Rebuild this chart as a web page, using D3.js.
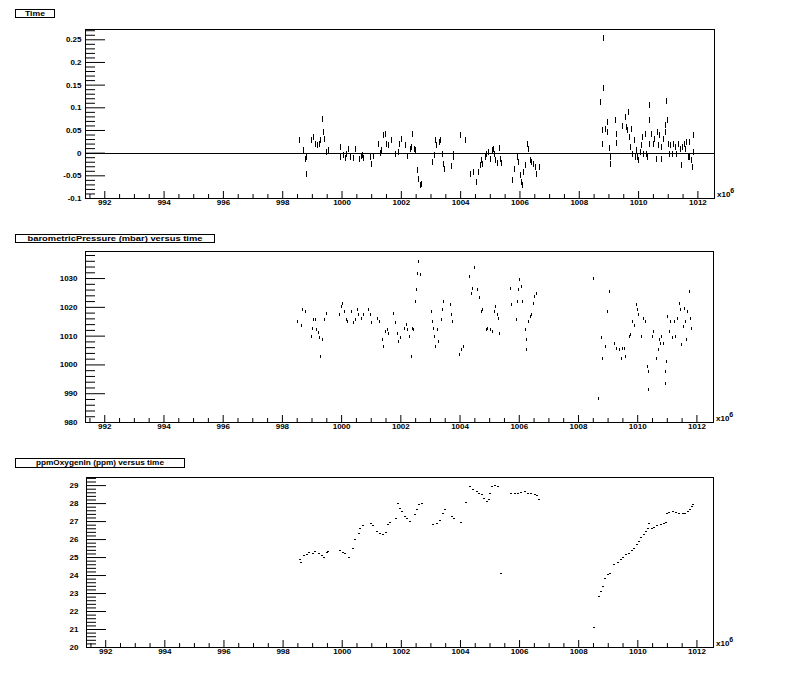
<!DOCTYPE html>
<html>
<head>
<meta charset="utf-8">
<script src="https://cdn.jsdelivr.net/npm/d3@7"></script>
<style>
  body { margin: 0; background: #fff; }
  svg { display: block; }
</style>
</head>
<body>
<div id="chart"></div>
<script>
// time axis (units of 10^6), shared by the three pads
var xDomain = [991.35, 1012.56];
var xMajor = [992, 994, 996, 998, 1000, 1002, 1004, 1006, 1008, 1010, 1012];

// tick labels of each y axis
var timeTicks = [-0.1, -0.05, 0, 0.05, 0.1, 0.15, 0.2, 0.25];
var pressureTicks = [980, 990, 1000, 1010, 1020, 1030];
var oxygenTicks = [20, 21, 22, 23, 24, 25, 26, 27, 28, 29];

// titles
var titles = ["Time", "barometricPressure (mbar) versus time", "ppmOxygenIn (ppm) versus time"];

// Time: [time, value]
var timeRunA = [
  [998.58,0.029],[998.71,0.005],[998.77,-0.013],[998.83,-0.010],[998.81,-0.048],[999.00,0.029],[999.05,0.035],[999.11,0.020],
  [999.18,0.016],[999.25,0.020],[999.30,0.027],[999.35,0.074],[999.40,0.046],[999.43,0.031],[999.48,0.001],[999.55,0.005],
  [999.96,0.012],[999.98,-0.010],[1000.06,-0.006],[1000.12,-0.011],[1000.18,-0.002],[1000.23,0.009],[1000.31,-0.010],[1000.40,-0.011],
  [1000.47,0.007],[1000.59,-0.013],[1000.66,-0.008],[1000.72,-0.006],[1000.74,-0.011],[1000.98,-0.010],[1001.00,-0.026],[1001.07,-0.008],
  [1001.25,0.018],[1001.30,-0.001],[1001.36,0.005],[1001.43,0.038],[1001.48,0.042],[1001.52,0.020],[1001.58,0.016],[1001.67,0.027],
  [1001.83,-0.002],[1001.92,0.001],[1001.97,0.020],[1002.02,0.031],[1002.17,0.016],[1002.22,-0.008],[1002.31,0.009],[1002.37,0.012],
  [1002.40,0.042],[1002.46,0.009],[1002.50,0.005],[1002.56,-0.039],[1002.59,-0.058],[1002.65,-0.072],[1002.71,-0.069],
  [1003.08,-0.021],[1003.12,-0.006],[1003.18,0.027],[1003.21,0.016],[1003.30,0.023],[1003.33,0.029],[1003.40,-0.002],[1003.45,-0.024],
  [1003.48,-0.035],[1003.72,-0.030],[1003.76,-0.010],[1003.79,-0.002],[1004.02,0.038],[1004.18,0.027],
  [1004.36,-0.046],[1004.46,-0.043],[1004.54,-0.065],[1004.63,-0.043],[1004.67,-0.028],[1004.72,-0.017],[1004.76,-0.024],[1004.84,-0.010],
  [1004.90,-0.002],[1004.95,0.001],[1005.01,-0.013],[1005.08,0.005],[1005.12,0.009],[1005.15,-0.002],[1005.20,-0.017],[1005.25,-0.023],
  [1005.32,0.011],[1005.37,-0.015],[1005.39,-0.023],
  [1005.76,-0.061],[1005.83,-0.035],[1005.93,-0.010],[1005.98,-0.021],[1006.02,-0.050],[1006.06,-0.065],[1006.10,-0.072],[1006.13,-0.043],
  [1006.19,-0.028],[1006.26,0.020],[1006.30,0.009],[1006.36,-0.017],[1006.41,-0.021],[1006.47,-0.024],[1006.53,-0.032],[1006.58,-0.046],
  [1006.69,-0.032]
];
var timeRunB = [
  [1008.72,0.112],[1008.80,0.049],[1008.80,0.020],[1008.85,0.252],[1008.85,0.142],[1008.89,0.053],[1008.96,0.068],[1008.96,0.046],
  [1009.02,0.011],[1009.07,-0.010],[1009.07,-0.026],[1009.23,0.071],[1009.28,0.042],[1009.28,0.021],[1009.48,0.058],[1009.56,0.079],
  [1009.62,0.057],[1009.65,0.049],[1009.67,0.090],[1009.71,0.035],[1009.75,0.012],[1009.79,0.053],[1009.82,-0.002],[1009.87,0.027],
  [1009.90,-0.010],[1009.96,0.005],[1009.99,-0.010],[1010.03,-0.017],[1010.07,0.001],[1010.10,0.016],[1010.16,0.035],[1010.18,-0.002],
  [1010.26,0.042],[1010.29,-0.002],[1010.33,-0.010],[1010.37,0.020],[1010.40,0.105],[1010.40,0.071],[1010.44,0.042],[1010.52,0.020],
  [1010.57,0.031],[1010.61,-0.013],[1010.64,0.046],[1010.68,0.016],[1010.72,0.038],[1010.78,-0.015],[1010.80,0.012],[1010.85,0.031],
  [1010.91,0.046],[1010.94,0.060],[1010.97,0.114],[1010.99,0.071],[1011.02,0.020],[1011.06,-0.002],[1011.10,0.016],[1011.17,-0.002],
  [1011.21,0.020],[1011.27,0.012],[1011.31,-0.002],[1011.36,0.020],[1011.42,0.009],[1011.46,-0.028],[1011.51,0.012],[1011.55,0.020],
  [1011.59,0.009],[1011.64,0.023],[1011.69,-0.010],[1011.72,0.023],[1011.75,-0.010],[1011.79,-0.017],[1011.82,-0.032],[1011.88,0.038],
  [1011.88,0.001]
];

// barometricPressure (mbar): [time, value]
var pressureRunA = [
  [998.54,1014.9],[998.66,1013.4],[998.71,1019.0],[998.79,1018.4],[999.00,1009.7],[999.05,1012.6],[999.08,1015.5],[999.14,1015.5],
  [999.18,1012.0],[999.24,1011.1],[999.27,1009.2],[999.32,1002.8],[999.37,1008.6],[999.44,1015.5],[999.50,1017.6],
  [999.93,1017.3],[1000.02,1020.1],[1000.06,1021.3],[1000.12,1018.4],[1000.18,1015.5],[1000.23,1014.9],[1000.34,1018.4],[1000.42,1014.4],
  [1000.48,1015.5],[1000.55,1019.0],[1000.60,1017.3],[1000.68,1016.1],[1000.74,1017.3],[1000.94,1019.0],[1000.98,1017.3],[1001.04,1014.4],
  [1001.22,1016.1],[1001.28,1014.9],
  [1001.41,1008.6],[1001.44,1006.3],[1001.50,1011.5],[1001.56,1012.0],[1001.60,1010.9],[1001.78,1017.8],[1001.84,1014.4],[1001.90,1010.9],
  [1001.95,1008.0],[1002.01,1009.2],[1002.14,1012.6],[1002.20,1013.8],[1002.25,1012.0],[1002.31,1009.7],[1002.37,1002.6],[1002.40,1012.6],
  [1002.46,1012.0],[1002.51,1021.9],[1002.54,1025.9],[1002.59,1031.7],[1002.62,1035.8],[1002.67,1031.1],
  [1003.04,1018.4],[1003.08,1014.9],[1003.12,1012.6],[1003.15,1009.7],[1003.19,1006.3],[1003.24,1012.0],[1003.30,1008.0],[1003.38,1015.5],
  [1003.41,1019.0],[1003.46,1021.9],[1003.68,1020.7],[1003.72,1017.3],[1003.75,1014.9],[1004.00,1003.4],[1004.05,1005.1],[1004.13,1006.3],
  [1004.33,1030.6],[1004.40,1024.8],[1004.45,1026.5],[1004.50,1033.5],[1004.59,1025.9],[1004.67,1023.4],[1004.73,1018.4],[1004.78,1019.0],
  [1004.90,1012.0],[1004.95,1012.6],[1005.03,1012.0],[1005.10,1011.5],[1005.18,1018.4],[1005.23,1020.1],[1005.29,1017.3],[1005.32,1016.1],
  [1005.35,1010.9],
  [1005.72,1026.5],[1005.76,1020.7],[1005.91,1015.5],[1005.96,1021.9],[1006.00,1025.9],[1006.04,1029.4],[1006.08,1027.1],[1006.13,1021.9],
  [1006.22,1012.0],[1006.27,1008.6],[1006.25,1005.1],[1006.33,1014.9],[1006.38,1016.7],[1006.44,1017.3],[1006.49,1021.3],[1006.54,1023.6],
  [1006.60,1024.8]
];
var pressureRunB = [
  [1008.53,1030.0],[1008.69,988.0],[1008.78,1009.2],[1008.83,1002.2],[1008.94,1006.3],[1009.00,1018.4],[1009.06,1025.3],[1009.25,1007.4],
  [1009.30,1005.7],[1009.39,1005.3],[1009.46,1002.2],[1009.50,1005.7],[1009.56,1005.7],[1009.62,1002.8],[1009.73,1009.7],[1009.79,1010.3],
  [1009.84,1014.9],[1009.90,1013.4],[1009.96,1020.7],[1010.01,1019.0],[1010.04,1017.3],[1010.13,1009.7],[1010.21,1016.1],[1010.27,1014.9],
  [1010.35,999.3],[1010.38,997.6],[1010.38,991.2],[1010.50,1009.7],[1010.55,1011.5],[1010.65,1002.2],[1010.71,1005.1],[1010.74,1008.6],
  [1010.80,1007.4],[1010.83,1009.7],[1010.88,1007.4],[1010.94,997.6],[1010.94,993.3],[1010.99,1001.0],[1011.02,1016.7],[1011.08,1011.5],
  [1011.14,1014.9],[1011.19,1009.2],[1011.25,1014.9],[1011.31,1009.7],[1011.36,1016.1],[1011.42,1021.3],[1011.47,1019.0],[1011.51,1006.8],
  [1011.55,1013.2],[1011.60,1019.6],[1011.64,1014.9],[1011.66,1008.6],[1011.70,1018.4],[1011.75,1025.3],[1011.79,1016.1],[1011.85,1012.6]
];

// ppmOxygenIn (ppm): [time, value]
var oxygenRunA = [
  [998.58,24.85],[998.63,24.67],[998.71,25.07],[998.83,25.13],[998.91,25.26],[999.02,25.22],[999.11,25.31],[999.22,25.22],
  [999.33,25.07],[999.41,25.00],[999.50,25.26],[999.55,25.31],
  [999.95,25.35],[1000.04,25.26],[1000.12,25.18],[1000.23,25.00],[1000.38,25.50],[1000.46,25.96],[1000.57,26.33],[1000.62,26.61],
  [1000.72,26.74],
  [1001.00,26.89],[1001.07,26.74],[1001.19,26.42],[1001.30,26.29],[1001.41,26.24],[1001.50,26.37],[1001.58,26.79],[1001.64,26.92],
  [1001.83,27.17],[1001.92,28.00],[1001.97,27.72],[1002.03,27.53],[1002.14,27.26],[1002.22,27.17],[1002.31,26.98],[1002.48,27.35],
  [1002.54,27.63],[1002.62,27.91],[1002.71,28.00],
  [1003.08,26.79],[1003.21,26.89],[1003.32,27.03],[1003.41,27.44],[1003.49,27.63],[1003.72,27.26],[1003.79,27.17],[1004.03,26.92],
  [1004.19,28.03],
  [1004.33,28.92],[1004.43,28.78],[1004.56,28.64],[1004.65,28.56],[1004.73,28.46],[1004.81,28.28],[1004.90,28.09],[1004.97,28.18],
  [1005.03,28.56],[1005.09,28.92],[1005.18,28.96],[1005.29,28.92],[1005.40,24.11],
  [1005.74,28.56],[1005.85,28.52],[1005.96,28.56],[1006.08,28.59],[1006.19,28.64],[1006.30,28.56],[1006.41,28.52],[1006.53,28.46],
  [1006.60,28.41],[1006.69,28.22]
];
var oxygenRunB = [
  [1008.52,21.06],[1008.72,22.78],[1008.78,23.09],[1008.83,23.37],[1008.92,23.83],[1009.00,24.02],[1009.08,24.11],[1009.22,24.57],
  [1009.34,24.67],[1009.45,24.85],[1009.53,25.00],[1009.62,25.13],[1009.73,25.22],[1009.82,25.37],[1009.90,25.50],[1009.98,25.68],
  [1010.07,25.87],[1010.13,26.06],[1010.24,26.24],[1010.29,26.42],[1010.37,26.61],[1010.40,26.89],[1010.50,26.61],[1010.57,26.67],
  [1010.68,26.74],[1010.80,26.79],[1010.91,26.85],[1010.97,26.92],[1011.00,27.44],[1011.08,27.48],[1011.19,27.53],[1011.31,27.48],
  [1011.42,27.44],[1011.53,27.41],[1011.62,27.44],[1011.70,27.53],[1011.78,27.67],[1011.85,27.81],[1011.89,27.91]
];

var font = "'Liberation Sans', Arial, sans-serif";

// append the svg object to the body of the page
var svg = d3.select("#chart")
  .append("svg")
    .attr("width", 800)
    .attr("height", 674)
    .style("background", "#fff");

function drawPad(p) {
  var g = svg.append("g");

  // title box
  g.append("rect")
    .attr("x", p.box[0] + 0.5).attr("y", p.box[1] + 0.5)
    .attr("width", p.box[2]).attr("height", p.box[3])
    .attr("fill", "#fff").attr("stroke", "#000")
    .attr("shape-rendering", "crispEdges");
  g.append("text")
    .attr("x", p.box[0] + p.box[2] / 2 + 0.5)
    .attr("y", p.box[1] + p.box[3] / 2 + 3.2)
    .attr("text-anchor", "middle")
    .attr("font-family", font).attr("font-weight", "bold").attr("font-size", 8)
    .attr("textLength", p.titleWidth).attr("lengthAdjust", "spacingAndGlyphs")
    .text(p.title);

  // scales
  var x = d3.scaleLinear().domain(xDomain).range([p.left, p.right]);
  var y = d3.scaleLinear().domain(p.yDomain).range([p.bottom, p.top]);

  // Add X axis (major + minor ticks pointing up)
  var xMinor = d3.range(991.5, 1012.5, 0.5).filter(function (d) { return xMajor.indexOf(d) < 0; });
  var gx = g.append("g")
    .attr("transform", "translate(0," + p.bottom + ")")
    .call(d3.axisBottom(x).tickValues(xMajor).tickSizeInner(-7).tickSizeOuter(0).tickPadding(1.5)
      .tickFormat(function (d) { return String(d); }));
  gx.append("g")
    .call(d3.axisBottom(x).tickValues(xMinor).tickSizeInner(-4).tickSizeOuter(0).tickFormat(""));
  gx.selectAll(".domain").remove();
  gx.attr("font-family", font).attr("font-size", 8).attr("font-weight", "bold");

  // Add Y axis (long ticks pointing right)
  var yMinor = d3.range(p.yDomain[0], p.yDomain[1], p.minorStep).filter(function (d) {
    return !p.yTicks.some(function (t) { return Math.abs(t - d) < p.minorStep / 10; });
  });
  var gy = g.append("g")
    .attr("transform", "translate(" + p.left + ",0)")
    .call(d3.axisLeft(y).tickValues(p.yTicks).tickSizeInner(-20).tickSizeOuter(0).tickPadding(p.labelGap)
      .tickFormat(function (d) { return String(d); }));
  gy.append("g")
    .call(d3.axisLeft(y).tickValues(yMinor).tickSizeInner(-10).tickSizeOuter(0).tickFormat(""));
  gy.selectAll(".domain").remove();
  gy.attr("font-family", font).attr("font-size", 8).attr("font-weight", "bold");

  // frame
  g.append("rect")
    .attr("x", p.left + 0.5).attr("y", p.top + 0.5)
    .attr("width", p.right - p.left).attr("height", p.bottom - p.top)
    .attr("fill", "none").attr("stroke", "#000")
    .attr("shape-rendering", "crispEdges");

  // zero line
  if (p.zeroLine) {
    g.append("line")
      .attr("x1", p.left).attr("x2", p.right)
      .attr("y1", Math.round(y(0)) + 0.5).attr("y2", Math.round(y(0)) + 0.5)
      .attr("stroke", "#000").attr("shape-rendering", "crispEdges");
  }

  // Add dots
  g.append("g")
    .attr("shape-rendering", "crispEdges")
    .selectAll("rect")
    .data(p.data)
    .enter()
    .append("rect")
      .attr("x", function (d) { return Math.round(x(d[0]) - p.mark[0] / 2); })
      .attr("y", function (d) { return Math.round(y(d[1]) - p.mark[1] / 2); })
      .attr("width", p.mark[0])
      .attr("height", p.mark[1])
      .attr("fill", "#000");

  // x10^6 exponent
  var ex = g.append("text")
    .attr("x", p.right + 3).attr("y", p.bottom - 1.5)
    .attr("font-family", font).attr("font-size", 8).attr("font-weight", "bold")
    .text("x10");
  ex.append("tspan").attr("dy", -3.5).attr("font-size", 7).text("6");
}

drawPad({
  title: titles[0], box: [15, 9, 39, 8], titleWidth: 20,
  left: 85, right: 714, top: 29, bottom: 198,
  yDomain: [-0.1, 0.2727], yTicks: timeTicks, minorStep: 0.01, labelGap: 3.5,
  zeroLine: true, mark: [1, 6],
  data: timeRunA.concat(timeRunB)
});

drawPad({
  title: titles[1], box: [15, 234, 199, 8], titleWidth: 175,
  left: 85, right: 713, top: 251, bottom: 422,
  yDomain: [980, 1039.4], yTicks: pressureTicks, minorStep: 2, labelGap: 7.5,
  zeroLine: false, mark: [1, 3],
  data: pressureRunA.concat(pressureRunB)
});

drawPad({
  title: titles[2], box: [15, 458, 169, 8.5], titleWidth: 128,
  left: 86, right: 713, top: 477, bottom: 647,
  yDomain: [20, 29.45], yTicks: oxygenTicks, minorStep: 0.2, labelGap: 7.5,
  zeroLine: false, mark: [2, 1],
  data: oxygenRunA.concat(oxygenRunB)
});
</script>
</body>
</html>
